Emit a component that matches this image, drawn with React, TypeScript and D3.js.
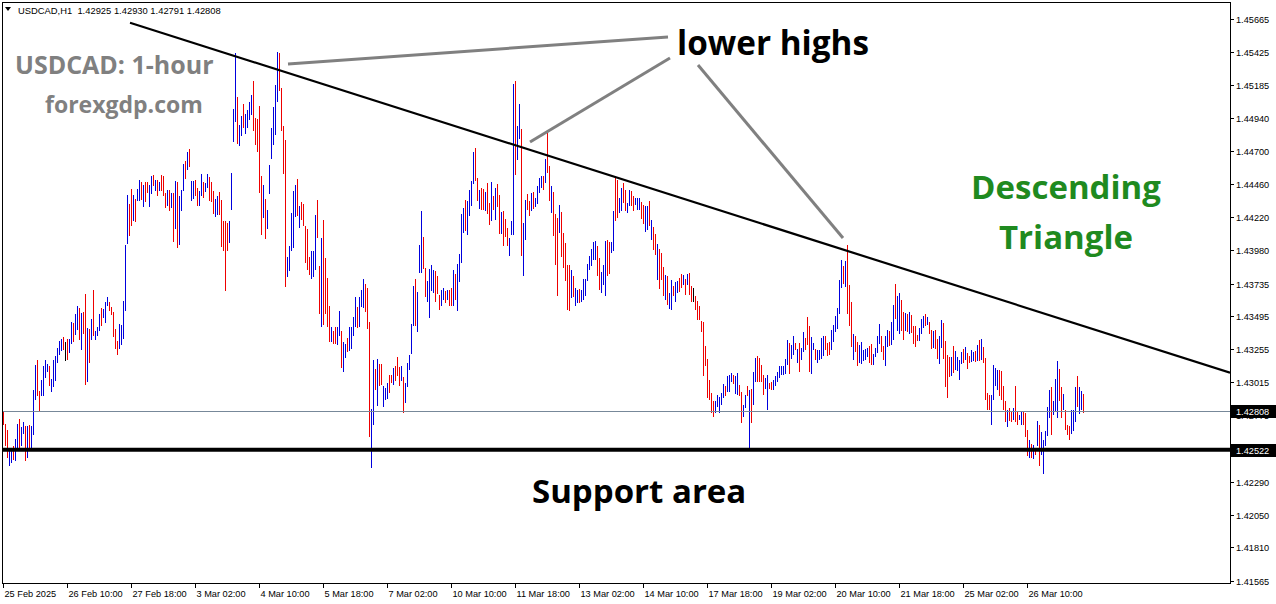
import React from "react";
import * as d3 from "d3";

// ---------- data (USDCAD H1, one value per hourly bar) ----------
const highs = [
1.42802,1.42712,1.42668,1.42527,1.42534,1.42547,1.42603,1.42712,1.42748,1.42685,
1.42722,1.42693,1.42693,1.42700,1.42693,1.42960,1.43142,1.43174,1.42948,1.43033,
1.43135,1.43179,1.43147,1.43135,1.43040,1.43179,1.43208,1.43264,1.43313,1.43332,
1.43342,1.43308,1.43330,1.43330,1.43451,1.43446,1.43515,1.43573,1.43556,1.43519,
1.43524,1.43660,1.43410,1.43405,1.43478,1.43690,1.43391,1.43415,1.43515,1.43556,
1.43551,1.43600,1.43636,1.43600,1.43563,1.43527,1.43405,1.43318,1.43442,1.43429,
1.43609,1.44018,1.44380,1.44317,1.44427,1.44383,1.44351,1.44427,1.44492,1.44473,
1.44456,1.44475,1.44475,1.44456,1.44521,1.44529,1.44492,1.44492,1.44475,1.44529,
1.44517,1.44395,1.44419,1.44419,1.44395,1.44395,1.44485,1.44475,1.44371,1.44419,
1.44609,1.44631,1.44694,1.44718,1.44485,1.44480,1.44492,1.44431,1.44407,1.44536,
1.44475,1.44468,1.44536,1.44512,1.44473,1.44407,1.44354,1.44371,1.44405,1.44346,
1.44188,1.44188,1.44175,1.44192,1.44540,1.45010,1.45416,1.45095,1.44893,1.44954,
1.45046,1.44973,1.45002,1.45058,1.45112,1.45214,1.44941,1.44934,1.45031,1.44516,
1.44455,1.44351,1.44273,1.44601,1.44869,1.45022,1.45180,1.45423,1.45416,1.45160,
1.44886,1.44783,1.43927,1.44010,1.44248,1.44411,1.44455,1.44499,1.44304,1.44329,
1.44316,1.44158,1.44134,1.43932,1.43976,1.43969,1.44236,1.44346,1.43864,1.44066,
1.44200,1.43920,1.43774,1.43572,1.43417,1.43392,1.43417,1.43417,1.43538,1.43392,
1.43312,1.43295,1.43336,1.43417,1.43417,1.43490,1.43635,1.43563,1.43635,1.43689,
1.43767,1.43733,1.43701,1.43458,1.42818,1.43178,1.43110,1.43183,1.43149,1.43149,
1.42989,1.42972,1.43008,1.43069,1.43069,1.43117,1.43135,1.43198,1.43125,1.43135,
1.43052,1.43013,1.43159,1.43215,1.43441,1.43718,1.43767,1.43677,1.44017,1.44265,
1.44073,1.43847,1.43757,1.43840,1.43871,1.43835,1.43823,1.43791,1.43653,1.43685,
1.43702,1.43678,1.43690,1.43685,1.43702,1.43831,1.43807,1.43880,1.43953,1.44244,
1.44286,1.44347,1.44334,1.44415,1.44480,1.44692,1.44723,1.44505,1.44415,1.44432,
1.44424,1.44400,1.44468,1.44322,1.44475,1.44371,1.44432,1.44463,1.44383,1.44254,
1.44261,1.44205,1.44140,1.44067,1.44188,1.45193,1.45215,1.44886,1.45047,1.44862,
1.44176,1.44347,1.44390,1.44334,1.44395,1.44400,1.44359,1.44444,1.44505,1.44517,
1.44517,1.44643,1.44833,1.44595,1.44444,1.44400,1.44244,1.44213,1.44310,1.44254,
1.44103,1.44030,1.43872,1.43872,1.43831,1.43791,1.43702,1.43690,1.43695,1.43690,
1.43768,1.43768,1.43880,1.43938,1.43987,1.44035,1.44043,1.44011,1.43921,1.43816,
1.43872,1.44043,1.44050,1.44035,1.44035,1.44261,1.44512,1.44492,1.44359,1.44432,
1.44468,1.44415,1.44322,1.44415,1.44407,1.44371,1.44359,1.44359,1.44359,1.44327,
1.44310,1.44298,1.44298,1.44334,1.44200,1.44150,1.44100,1.44025,1.43986,1.43957,
1.43859,1.43799,1.43787,1.43665,1.43762,1.43714,1.43743,1.43750,1.43774,1.43806,
1.43794,1.43767,1.43806,1.43811,1.43718,1.43701,1.43645,1.43611,1.43573,1.43465,
1.43458,1.43281,1.43183,1.43028,1.42940,1.42875,1.42875,1.42923,1.42906,1.42940,
1.43003,1.42989,1.43057,1.43069,1.43086,1.43069,1.43062,1.43081,1.42996,1.42947,
1.42850,1.42923,1.42989,1.42960,1.42965,1.43093,1.43191,1.43203,1.43191,1.43142,
1.43069,1.43045,1.43069,1.43013,1.43020,1.43033,1.43062,1.43093,1.43135,1.43130,
1.43130,1.43183,1.43320,1.43300,1.43288,1.43354,1.43300,1.43256,1.43300,1.43264,
1.43385,1.43337,1.43490,1.43427,1.43344,1.43300,1.43256,1.43251,1.43247,1.43337,
1.43354,1.43354,1.43300,1.43305,1.43397,1.43434,1.43500,1.43555,1.43762,1.43908,
1.43864,1.43896,1.44018,1.43726,1.43604,1.43368,1.43354,1.43305,1.43288,1.43306,
1.43247,1.43256,1.43264,1.43282,1.43296,1.43223,1.43264,1.43354,1.43442,1.43350,
1.43282,1.43354,1.43398,1.43386,1.43452,1.43581,1.43734,1.43646,1.43666,1.43612,
1.43525,1.43520,1.43515,1.43525,1.43508,1.43427,1.43427,1.43362,1.43410,1.43476,
1.43496,1.43515,1.43491,1.43452,1.43393,1.43386,1.43393,1.43330,1.43350,1.43471,
1.43447,1.43313,1.43216,1.43199,1.43199,1.43282,1.43240,1.43199,1.43179,1.43233,
1.43256,1.43272,1.43228,1.43209,1.43247,1.43233,1.43240,1.43289,1.43325,1.43330,
1.43272,1.43192,1.42936,1.42924,1.42924,1.43143,1.43118,1.43106,1.43101,1.43094,
1.42989,1.42875,1.42810,1.42827,1.42802,1.42827,1.42989,1.42802,1.42778,1.42802,
1.42802,1.42790,1.42664,1.42591,1.42567,1.42559,1.42528,1.42729,1.42705,1.42649,
1.42591,1.42656,1.42834,1.42956,1.42980,1.42875,1.43038,1.43167,1.43111,1.42980,
1.42931,1.42809,1.42705,1.42697,1.42815,1.42815,1.42979,1.43063,1.42979,1.42948,
1.42930];

const lows = [
1.42700,1.42551,1.42461,1.42401,1.42425,1.42449,1.42444,1.42527,1.42534,1.42547,
1.42639,1.42437,1.42461,1.42534,1.42534,1.42627,1.42882,1.42911,1.42802,1.42911,
1.42911,1.43045,1.43087,1.42989,1.42941,1.42980,1.43021,1.43155,1.43215,1.43240,
1.43252,1.43167,1.43174,1.43228,1.43293,1.43305,1.43361,1.43398,1.43320,1.43252,
1.43369,1.42992,1.43016,1.43155,1.43320,1.43356,1.43320,1.43349,1.43386,1.43422,
1.43483,1.43446,1.43568,1.43532,1.43502,1.43342,1.43259,1.43215,1.43259,1.43284,
1.43332,1.43532,1.44025,1.44084,1.44157,1.44193,1.44186,1.44334,1.44334,1.44346,
1.44290,1.44327,1.44395,1.44290,1.44390,1.44444,1.44407,1.44371,1.44407,1.44407,
1.44371,1.44285,1.44298,1.44261,1.44285,1.44035,1.44135,1.43991,1.44018,1.44261,
1.44407,1.44499,1.44560,1.44582,1.44334,1.44354,1.44371,1.44303,1.44298,1.44375,
1.44358,1.44402,1.44431,1.44339,1.44327,1.44244,1.44220,1.44237,1.44237,1.44005,
1.43976,1.43684,1.43976,1.44034,1.44268,1.44771,1.44910,1.44754,1.44740,1.44813,
1.44869,1.44827,1.44869,1.44929,1.44961,1.44851,1.44747,1.44698,1.44399,1.44090,
1.44212,1.44061,1.44132,1.44389,1.44645,1.44747,1.44820,1.45063,1.45143,1.44851,
1.44535,1.43708,1.43786,1.43830,1.43976,1.43993,1.44224,1.44231,1.44139,1.44200,
1.44158,1.43888,1.43835,1.43798,1.43767,1.43786,1.43835,1.44066,1.43514,1.43417,
1.43434,1.43514,1.43417,1.43305,1.43305,1.43295,1.43295,1.43288,1.43353,1.43117,
1.43093,1.43190,1.43239,1.43246,1.43256,1.43353,1.43417,1.43409,1.43417,1.43563,
1.43555,1.43524,1.43402,1.42619,1.42393,1.42704,1.42955,1.42843,1.42984,1.42996,
1.42831,1.42882,1.42891,1.42935,1.43008,1.42996,1.43027,1.43057,1.42984,1.43027,
1.42794,1.42862,1.42979,1.43105,1.43222,1.43426,1.43426,1.43378,1.43815,1.43815,
1.43840,1.43635,1.43604,1.43482,1.43684,1.43665,1.43600,1.43660,1.43539,1.43568,
1.43617,1.43593,1.43617,1.43573,1.43573,1.43573,1.43617,1.43532,1.43743,1.43884,
1.44103,1.44115,1.44091,1.44230,1.44298,1.44463,1.44480,1.44334,1.44278,1.44273,
1.44269,1.44261,1.44244,1.44164,1.44188,1.44273,1.44196,1.44293,1.44098,1.44098,
1.44011,1.44074,1.44006,1.43933,1.44091,1.44091,1.44529,1.44633,1.44792,1.43938,
1.43787,1.44050,1.44269,1.44225,1.44261,1.44278,1.44293,1.44315,1.44395,1.44432,
1.44415,1.44468,1.44541,1.44334,1.44249,1.44079,1.43872,1.43641,1.44103,1.43928,
1.43848,1.43751,1.43539,1.43532,1.43629,1.43636,1.43568,1.43593,1.43593,1.43597,
1.43617,1.43641,1.43751,1.43836,1.43860,1.43904,1.43909,1.43787,1.43685,1.43666,
1.43726,1.43646,1.43787,1.43807,1.43957,1.43970,1.44188,1.44213,1.44249,1.44261,
1.44322,1.44261,1.44249,1.44298,1.44298,1.44261,1.44310,1.44273,1.44273,1.44205,
1.44171,1.44108,1.44128,1.44152,1.44050,1.43981,1.43940,1.43762,1.43697,1.43762,
1.43641,1.43616,1.43580,1.43548,1.43543,1.43645,1.43604,1.43665,1.43670,1.43701,
1.43726,1.43653,1.43726,1.43653,1.43604,1.43604,1.43543,1.43470,1.43470,1.43385,
1.43057,1.43130,1.42899,1.42887,1.42794,1.42760,1.42794,1.42833,1.42794,1.42850,
1.42899,1.42911,1.42947,1.42947,1.43020,1.43003,1.42930,1.42923,1.42911,1.42721,
1.42760,1.42826,1.42911,1.42534,1.42716,1.42850,1.43020,1.43020,1.43020,1.43020,
1.42923,1.42965,1.42814,1.42965,1.42960,1.42960,1.42984,1.43020,1.43045,1.43069,
1.43069,1.43076,1.43142,1.43076,1.43183,1.43215,1.43247,1.43154,1.43093,1.43174,
1.43239,1.43251,1.43288,1.43093,1.43076,1.43247,1.43179,1.43154,1.43174,1.43183,
1.43208,1.43247,1.43203,1.43215,1.43251,1.43312,1.43385,1.43402,1.43514,1.43701,
1.43733,1.43709,1.43514,1.43422,1.43271,1.43179,1.43232,1.43130,1.43154,1.43150,
1.43167,1.43179,1.43199,1.43155,1.43143,1.43143,1.43199,1.43228,1.43296,1.43233,
1.43174,1.43135,1.43272,1.43282,1.43289,1.43320,1.43476,1.43386,1.43369,1.43386,
1.43320,1.43386,1.43379,1.43369,1.43374,1.43296,1.43272,1.43313,1.43313,1.43369,
1.43410,1.43427,1.43435,1.43369,1.43256,1.43264,1.43256,1.43184,1.43150,1.43264,
1.43184,1.42980,1.42899,1.43053,1.43063,1.43086,1.43101,1.43094,1.43033,1.43150,
1.43155,1.43179,1.43111,1.43155,1.43160,1.43167,1.43160,1.43167,1.43167,1.43174,
1.43155,1.42883,1.42810,1.42810,1.42705,1.42888,1.42984,1.42960,1.42917,1.42888,
1.42815,1.42722,1.42688,1.42729,1.42722,1.42741,1.42722,1.42705,1.42737,1.42705,
1.42705,1.42615,1.42474,1.42462,1.42462,1.42455,1.42486,1.42552,1.42406,1.42486,
1.42348,1.42552,1.42620,1.42754,1.42632,1.42778,1.42795,1.42754,1.42875,1.42754,
1.42815,1.42669,1.42632,1.42591,1.42639,1.42656,1.42722,1.42834,1.42785,1.42815,
1.42791];

// b = bullish bar (blue), r = bearish bar (red), k = unchanged (black)
const sides = (
  "rrrbbrbbrb" + "brbrbbbrrb" + "bbbrbbbbbb" + "rkrbbrbbrb" + "rrbrbrbbbr" +
  "bbbrrrrrbb" + "bbbrrbrbbr" + "brrbbrbrbr" + "rrbrbrbrbb" + "brbrbbrrbb" +
  "rbbrrrbbrr" + "rrrbbbbrbb" + "rbbbbrrrrr" + "brbbbbbbrr" + "rrbbbbbrbr" +
  "rrrrbbbrrb" + "rrrrbrrbbr" + "bbrbbbbrbb" + "brrrbbrbrr" + "bbbrrbrrrb" +
  "rbbbbbrbbb" + "rrbbbbrrrb" + "brbrrbrbbb" + "brbbbbrrbr" + "rbrrbrbrrb" +
  "rrrbbbrbbr" + "bbrrbrbbbb" + "rbrrbrrrbr" + "rrrrbrbbrb" + "bbbbbbbrrb" +
  "bbrrbbrrbb" + "rrbbrrbbbr" + "rbbrbrrbrr" + "rbrbbrbbrr" + "brbrrkrrrr" +
  "rrrrrrbbbb" + "brbbbrbbrr" + "bbrbrbbrrr" + "rbbrrbbbbb" + "bbbrbbrbrb" +
  "brrrbbrbbb" + "brrrbbbbbb" + "rbrrrbrrbb" + "bbbrrbbbbr" + "rbbrbbrbbr" +
  "rbrbrrrrbb" + "brbrrbrrbb" + "rrrrbrbbbb" + "rbrrbbrbrb" + "rrrrbbbbrr" +
  "rrbrrbrrbb" + "rrrbrbrbrb" + "bbbbrbbbrr" + "brrrbbbrbb" + "r"
).split("");

const priceTicks = [
  1.45665, 1.45425, 1.45185, 1.4494, 1.447, 1.4446, 1.4422, 1.4398, 1.43735,
  1.43495, 1.43255, 1.43015, 1.42775, 1.4229, 1.4205, 1.4181, 1.41565,
];

const timeLabels = [
  "25 Feb 2025", "26 Feb 10:00", "27 Feb 18:00", "3 Mar 02:00", "4 Mar 10:00",
  "5 Mar 18:00", "7 Mar 02:00", "10 Mar 10:00", "11 Mar 18:00", "13 Mar 02:00",
  "14 Mar 10:00", "17 Mar 18:00", "19 Mar 02:00", "20 Mar 10:00", "21 Mar 18:00",
  "25 Mar 02:00", "26 Mar 10:00",
];
const barsPerTimeLabel = 32;

const symbolName = "USDCAD,H1";
const lastOHLC = [1.42925, 1.4293, 1.42791, 1.42808];
const bidPrice = 1.42808;
const supportPrice = 1.42522;

// trend line and annotation pointers, in (bar index, price)
const trendLine = [
  { bar: 63.5, price: 1.45638 },
  { bar: 613.5, price: 1.43085 },
];
const pointerLines = [
  [{ bar: 142.5, price: 1.45337 }, { bar: 332.5, price: 1.45534 }],
  [{ bar: 263.5, price: 1.44768 }, { bar: 333.5, price: 1.4538 }],
  [{ bar: 347.5, price: 1.45329 }, { bar: 420.0, price: 1.44067 }],
];

// ---------- layout ----------
const W = 1276;
const H = 604;
const plotLeft = 2;
const plotRight = 1230;
const plotTop = 2;
const plotBottom = 583;

const AXIS_FONT = "'Liberation Sans', Arial, sans-serif";
const BIG_FONT = "'Open Sans', 'Noto Sans', sans-serif";

const sideColor: Record<string, string> = { b: "#0000dd", r: "#ee0000", k: "#000000" };

export default function App() {
  const x = d3.scaleLinear().domain([0, highs.length - 1]).range([3, 3 + 2 * (highs.length - 1)]);
  const y = d3.scaleLinear().domain([1.41565, 1.45665]).range([581, 19]);
  const fmt = d3.format(".5f");
  const line = d3
    .line<{ bar: number; price: number }>()
    .x((d) => x(d.bar))
    .y((d) => y(d.price));

  const bidY = Math.round(y(bidPrice)) + 0.5;
  const supY = y(supportPrice);

  return (
    <svg
      width={W}
      height={H}
      viewBox={`0 0 ${W} ${H}`}
      style={{ position: "absolute", left: 0, top: 0, background: "#ffffff", display: "block" }}
    >
      <rect x={0} y={0} width={W} height={H} fill="#ffffff" />
      <defs>
        <clipPath id="plotClip">
          <rect x={plotLeft} y={plotTop} width={plotRight - plotLeft} height={plotBottom - plotTop} />
        </clipPath>
      </defs>

      {/* price bars */}
      <g shapeRendering="crispEdges">
        {highs.map((h, i) => {
          const xi = Math.round(x(i)) + 0.5;
          const yTop = Math.round(y(h));
          const yBot = Math.round(y(lows[i]));
          return (
            <line
              key={i}
              x1={xi}
              x2={xi}
              y1={yTop}
              y2={Math.max(yBot, yTop + 2)}
              stroke={sideColor[sides[i]] || "#000"}
              strokeWidth={1}
            />
          );
        })}
      </g>

      {/* bid line */}
      <line x1={plotLeft} x2={plotRight} y1={bidY} y2={bidY} stroke="#778899" strokeWidth={1} shapeRendering="crispEdges" />

      {/* support */}
      <line x1={plotLeft} x2={plotRight} y1={supY} y2={supY} stroke="#000" strokeWidth={4} />

      {/* trend line + pointers */}
      <g clipPath="url(#plotClip)">
        <path d={line(trendLine) || ""} stroke="#000" strokeWidth={2.2} fill="none" />
        {pointerLines.map((p, i) => (
          <path key={i} d={line(p) || ""} stroke="#808080" strokeWidth={3} fill="none" />
        ))}
      </g>

      {/* frame */}
      <rect
        x={plotLeft + 0.5}
        y={plotTop + 0.5}
        width={plotRight - plotLeft}
        height={plotBottom - plotTop}
        fill="none"
        stroke="#000"
        strokeWidth={1}
        shapeRendering="crispEdges"
      />

      {/* price axis */}
      <g fontFamily={AXIS_FONT} fontSize={9.2} fill="#000">
        {priceTicks.map((p) => {
          const yy = Math.round(y(p)) + 0.5;
          return (
            <g key={p}>
              <line x1={plotRight} x2={plotRight + 4} y1={yy} y2={yy} stroke="#000" shapeRendering="crispEdges" />
              <text x={1236} y={yy + 3.3}>{fmt(p)}</text>
            </g>
          );
        })}
        {[bidPrice, supportPrice].map((p) => {
          const yy = Math.round(y(p)) + 0.5;
          return (
            <g key={"box" + p}>
              <rect x={plotRight + 1} y={yy - 6.5} width={W - plotRight - 1} height={13} fill="#000" />
              <text x={1236} y={yy + 3.3} fill="#fff">{fmt(p)}</text>
            </g>
          );
        })}
      </g>

      {/* time axis */}
      <g fontFamily={AXIS_FONT} fontSize={9.2} fill="#000">
        {timeLabels.map((t, k) => {
          const xx = Math.round(x(k * barsPerTimeLabel)) + 0.5;
          return (
            <g key={t}>
              <line x1={xx} x2={xx} y1={plotBottom} y2={plotBottom + 5} stroke="#000" shapeRendering="crispEdges" />
              <text x={xx + 1} y={597}>{t}</text>
            </g>
          );
        })}
      </g>

      {/* header */}
      <path d="M5,7 L11,7 L8,11 Z" fill="#000" />
      <text x={18} y={14} fontFamily={AXIS_FONT} fontSize={9.4} fill="#000" style={{ whiteSpace: "pre" }}>
        {symbolName + "  " + lastOHLC.map(fmt).join(" ")}
      </text>

      {/* watermark */}
      <g fontFamily={BIG_FONT} fontWeight={700} fill="#808080">
        <text x={15} y={74} fontSize={25}>USDCAD: 1-hour</text>
        <text x={45} y={113} fontSize={23}>forexgdp.com</text>
      </g>

      {/* annotations */}
      <g fontFamily={BIG_FONT} fontWeight={700}>
        <text x={677} y={55} fontSize={33.3} fill="#000">lower highs</text>
        <text x={1066} y={199} fontSize={33} fill="#1f8a1f" textAnchor="middle">Descending</text>
        <text x={1066} y={249} fontSize={33} fill="#1f8a1f" textAnchor="middle">Triangle</text>
        <text x={532} y={503} fontSize={33} fill="#000">Support area</text>
      </g>
    </svg>
  );
}
